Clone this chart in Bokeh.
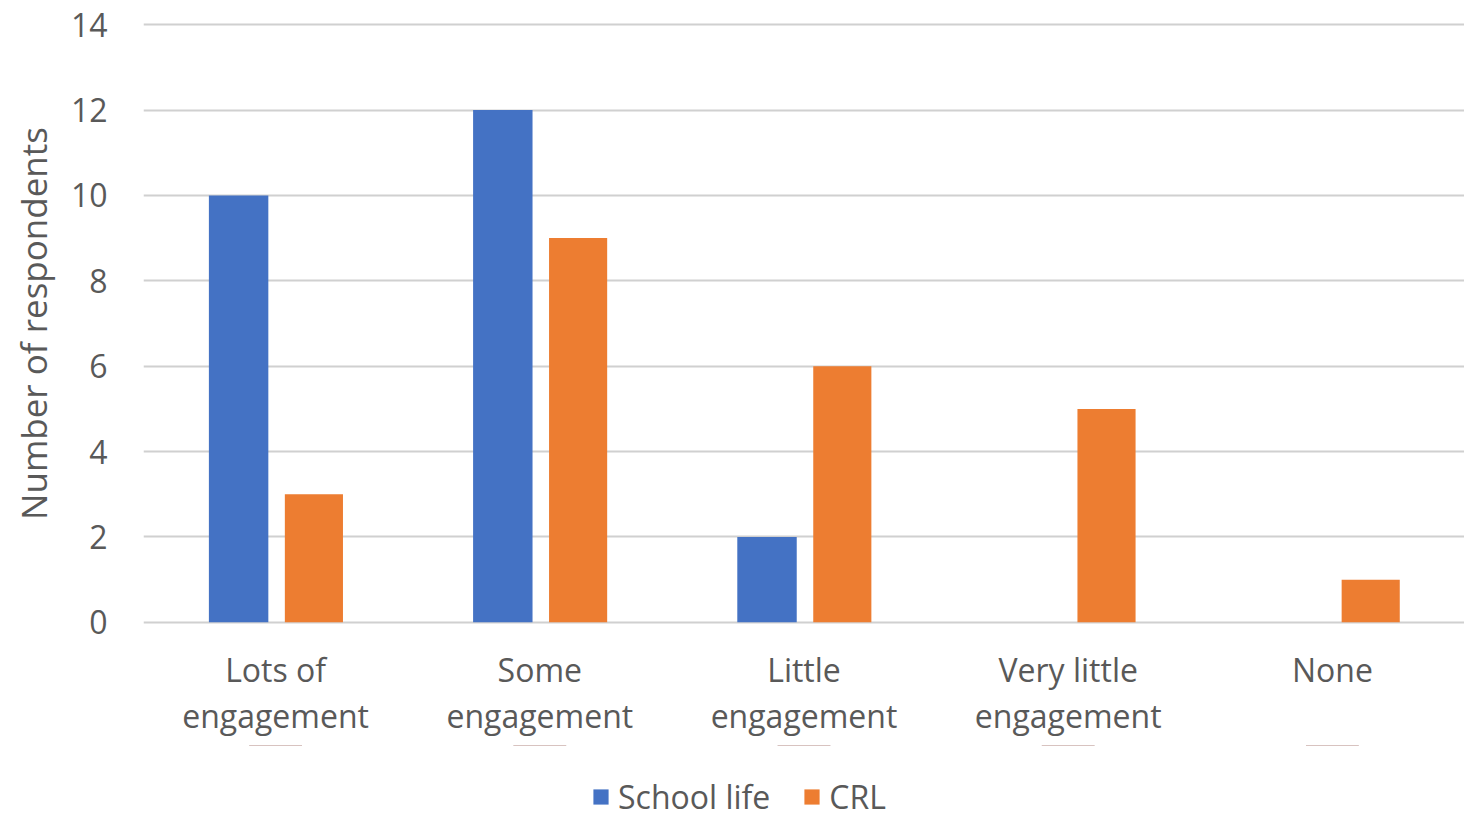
from bokeh.plotting import figure
from bokeh.models import FactorRange, Range1d, Legend, LegendItem, FixedTicker, ColumnDataSource
from bokeh.layouts import column
from bokeh.transform import dodge
from bokeh.embed import file_html
from bokeh.resources import INLINE

categories = ["Lots of\nengagement", "Some\nengagement", "Little\nengagement", "Very little\nengagement", "None"]
school_life = [10, 12, 2, 0, 0]
crl = [3, 9, 6, 5, 1]
series_names = ["School life", "CRL"]
y_ticks = [0, 2, 4, 6, 8, 10, 12, 14]

BLUE = "#4472C4"
ORANGE = "#ED7D31"
TEXT = "#595959"
FONT = "Open Sans"

src = ColumnDataSource(dict(cat=categories, school=school_life, crl=crl))

p = figure(x_range=FactorRange(*categories, range_padding=0), y_range=Range1d(-0.05, 14.05),
           width=1464, height=745, output_backend="svg", toolbar_location=None,
           min_border_left=143, min_border_right=0, min_border_top=22, min_border_bottom=121)
p.outline_line_color = None
p.background_fill_color = "white"

r1 = p.vbar(x=dodge("cat", -0.14, range=p.x_range), top="school", bottom=0, width=0.225, source=src,
            fill_color=BLUE, line_color=None)
r2 = p.vbar(x=dodge("cat", 0.145, range=p.x_range), top="crl", bottom=0, width=0.22, source=src,
            fill_color=ORANGE, line_color=None)

p.xgrid.grid_line_color = None
p.ygrid.grid_line_color = "#D0D0D0"
p.ygrid.grid_line_width = 2
p.yaxis.ticker = FixedTicker(ticks=y_ticks)

for ax in (p.xaxis[0], p.yaxis[0]):
    ax.axis_line_color = None
    ax.major_tick_line_color = None
    ax.minor_tick_line_color = None
    ax.major_label_text_font = FONT
    ax.major_label_text_font_size = "32px"
    ax.major_label_text_color = TEXT
    ax.major_label_text_font_style = "normal"

p.yaxis.major_label_standoff = 30
p.xaxis.major_label_standoff = 17
p.xaxis.major_label_text_line_height = 1.08
p.xaxis.group_text_font_size = "0px"

p.yaxis.axis_label = "Number of respondents"
p.yaxis.axis_label_text_font = FONT
p.yaxis.axis_label_text_font_size = "35px"
p.yaxis.axis_label_text_font_style = "normal"
p.yaxis.axis_label_text_color = TEXT
p.yaxis.axis_label_standoff = 11

# legend strip below the chart; its proxy bars have zero height and lie outside its y range
lg = figure(width=1464, height=70, output_backend="svg", toolbar_location=None,
            x_range=FactorRange(*categories, range_padding=0), y_range=Range1d(-1000, -999),
            min_border_left=0, min_border_right=0, min_border_top=0, min_border_bottom=0)
lg.axis.visible = False
lg.grid.visible = False
lg.outline_line_color = None
k1 = lg.vbar(x="cat", top="school", bottom="school", width=0.2, source=src, fill_color=BLUE, line_color=None)
k2 = lg.vbar(x="cat", top="crl", bottom="crl", width=0.2, source=src, fill_color=ORANGE, line_color=None)

legend = Legend(items=[LegendItem(label=series_names[0], renderers=[k1]),
                       LegendItem(label=series_names[1], renderers=[k2])],
                orientation="horizontal", location=(448, -3),
                label_text_font=FONT, label_text_font_size="32px", label_text_color=TEXT,
                label_text_line_height=0.8,
                glyph_width=19, glyph_height=19, label_standoff=8, spacing=32,
                padding=0, margin=0, border_line_color=None, background_fill_alpha=0)
lg.add_layout(legend, "center")

layout = column(p, lg, spacing=0)
open("out.html", "w").write(file_html(layout, INLINE))
